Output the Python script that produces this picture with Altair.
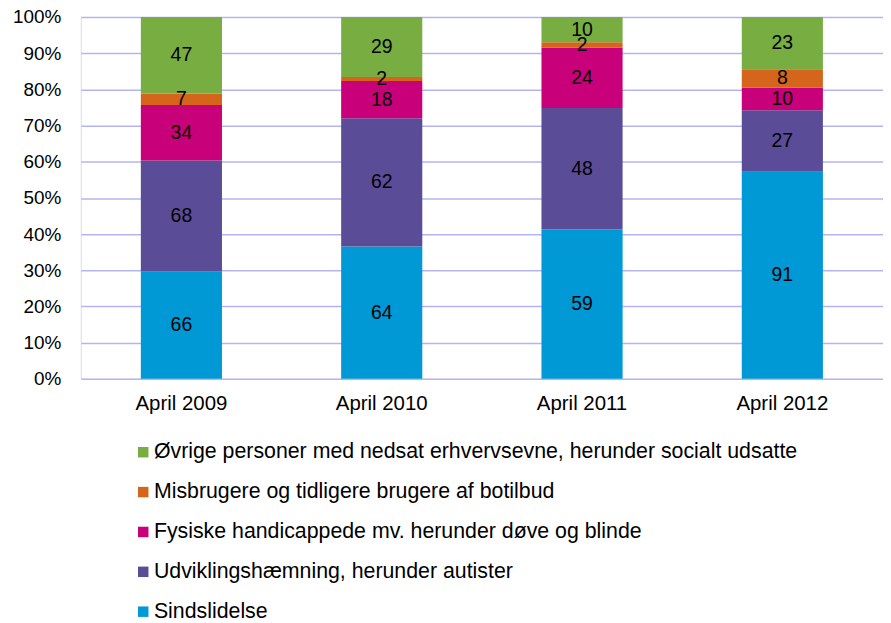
import altair as alt
import pandas as pd

years = ["April 2009", "April 2010", "April 2011", "April 2012"]
series = [
    "Sindslidelse",
    "Udviklingshæmning, herunder autister",
    "Fysiske handicappede mv. herunder døve og blinde",
    "Misbrugere og tidligere brugere af botilbud",
    "Øvrige personer med nedsat erhvervsevne, herunder socialt udsatte",
]
colors = ["#0098D5", "#5B4C98", "#C8007A", "#D4651A", "#77AD41"]
values = {
    "Sindslidelse": [66, 64, 59, 91],
    "Udviklingshæmning, herunder autister": [68, 62, 48, 27],
    "Fysiske handicappede mv. herunder døve og blinde": [34, 18, 24, 10],
    "Misbrugere og tidligere brugere af botilbud": [7, 2, 2, 8],
    "Øvrige personer med nedsat erhvervsevne, herunder socialt udsatte": [47, 29, 10, 23],
}
tick_values = [0, 0.1, 0.2, 0.3, 0.4, 0.5, 0.6, 0.7, 0.8, 0.9, 1.0]

rows = []
for si, s in enumerate(series):
    for yi, y in enumerate(years):
        rows.append({"year": y, "series": s, "value": values[s][yi], "order": si})
df = pd.DataFrame(rows)

FONT = "Liberation Sans"

base = alt.Chart(df).transform_stack(
    stack="value",
    groupby=["year"],
    as_=["y0", "y1"],
    offset="normalize",
    sort=[alt.SortField("order", order="ascending")],
).transform_calculate(mid="(datum.y0 + datum.y1) / 2")

xaxis = alt.Axis(labelAngle=0, domain=False, ticks=False, labelPadding=15,
                 labelFontSize=20.5, labelFont=FONT, labelColor="#000")
xscale = alt.Scale(paddingInner=0.595, paddingOuter=0.3)

yaxis = alt.Axis(format=".0%", values=tick_values, labelOverlap=False,
                 domain=False, ticks=False, labelPadding=20,
                 labelFontSize=19, labelFont=FONT, labelColor="#000",
                 grid=True, gridColor="#B4B4F5", gridWidth=1.5)

bars = base.mark_bar().encode(
    x=alt.X("year:N", sort=years, title=None, scale=xscale, axis=xaxis),
    y=alt.Y("y0:Q", title=None, scale=alt.Scale(domain=[0, 1], nice=False),
            axis=yaxis),
    y2="y1:Q",
    color=alt.Color(
        "series:N",
        scale=alt.Scale(domain=list(reversed(series)), range=list(reversed(colors))),
        legend=alt.Legend(
            title=None, orient="none", legendX=52, legendY=426,
            direction="vertical", symbolType="square", symbolSize=110,
            symbolStrokeWidth=0, labelFontSize=21.4, labelFont=FONT,
            labelColor="#000", rowPadding=17, labelOffset=0, labelLimit=900,
        ),
    ),
)

labels = base.mark_text(fontSize=19.5, font=FONT, color="#000").encode(
    x=alt.X("year:N", sort=years, title=None, scale=xscale, axis=xaxis),
    y=alt.Y("mid:Q", axis=None),
    text="value:Q",
)

chart = alt.layer(bars, labels).resolve_axis(y="independent").properties(
    width=805, height=363,
    autosize=alt.AutoSizeParams(type="none"),
    padding={"left": 73, "top": 8, "right": 0, "bottom": 242},
).configure_view(stroke=None).configure(background="white")

chart.save("out.html", embed_options={"renderer": "svg", "actions": False})
